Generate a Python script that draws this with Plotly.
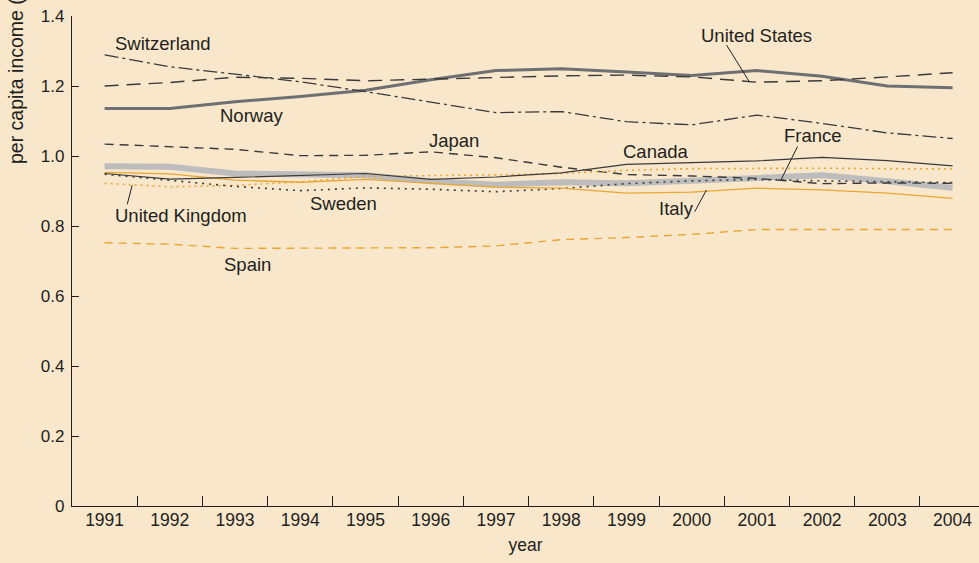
import plotly.graph_objects as go

years = [str(y) for y in range(1991, 2005)]

switzerland = [1.289, 1.255, 1.234, 1.212, 1.184, 1.153, 1.124, 1.127, 1.098, 1.089, 1.117, 1.093, 1.066, 1.050]
united_states = [1.200, 1.210, 1.225, 1.222, 1.215, 1.220, 1.226, 1.229, 1.231, 1.226, 1.211, 1.215, 1.226, 1.238]
norway = [1.136, 1.136, 1.155, 1.170, 1.188, 1.218, 1.244, 1.249, 1.240, 1.230, 1.244, 1.228, 1.200, 1.195]
japan = [1.034, 1.027, 1.019, 1.001, 1.002, 1.012, 0.995, 0.968, 0.947, 0.943, 0.936, 0.921, 0.923, 0.922]
canada = [0.950, 0.934, 0.939, 0.944, 0.950, 0.933, 0.940, 0.952, 0.976, 0.981, 0.986, 0.996, 0.987, 0.972]
france = [0.971, 0.969, 0.950, 0.946, 0.945, 0.928, 0.918, 0.925, 0.922, 0.929, 0.937, 0.945, 0.928, 0.909]
italy = [0.953, 0.949, 0.931, 0.925, 0.933, 0.922, 0.911, 0.908, 0.894, 0.897, 0.908, 0.903, 0.894, 0.879]
sweden = [0.948, 0.930, 0.913, 0.901, 0.909, 0.905, 0.898, 0.907, 0.921, 0.929, 0.933, 0.929, 0.927, 0.924]
united_kingdom = [0.922, 0.912, 0.916, 0.926, 0.942, 0.943, 0.946, 0.950, 0.959, 0.964, 0.965, 0.965, 0.964, 0.963]
spain = [0.752, 0.748, 0.736, 0.737, 0.738, 0.738, 0.743, 0.761, 0.767, 0.776, 0.790, 0.790, 0.790, 0.790]

y_ticks = [0, 0.2, 0.4, 0.6, 0.8, 1.0, 1.2, 1.4]
y_tick_text = ["0", "0.2", "0.4", "0.6", "0.8", "1.0", "1.2", "1.4"]

BG = "#f8e7cb"
INK = "#231f20"
DARK = "#3b3a3a"
ORANGE = "#eaa633"
FONT = "Liberation Sans Narrow, Liberation Sans, Arial, sans-serif"

series = [
    ("France", france, dict(color="#bdbdbd", width=6)),
    ("Norway", norway, dict(color="#6e6f72", width=3)),
    ("Switzerland", switzerland, dict(color=DARK, width=1.3, dash="14px,4px,3px,4px")),
    ("United States", united_states, dict(color=DARK, width=1.4, dash="14px,8px")),
    ("Japan", japan, dict(color=DARK, width=1.4, dash="9px,6px")),
    ("Spain", spain, dict(color=ORANGE, width=1.4, dash="8px,6px")),
    ("United Kingdom", united_kingdom, dict(color=ORANGE, width=1.6, dash="2px,4px")),
    ("Sweden", sweden, dict(color=DARK, width=1.6, dash="2px,5px")),
    ("Italy", italy, dict(color=ORANGE, width=1.3)),
    ("Canada", canada, dict(color=DARK, width=1.2)),
]

fig = go.Figure()
for name, vals, line in series:
    fig.add_trace(go.Scatter(x=years, y=vals, mode="lines", name=name, line=line,
                             showlegend=False, hoverinfo="skip"))

labels = [
    ("Switzerland", 0.888, 1.322),
    ("Norway", 2.256, 1.117),
    ("United States", 9.99, 1.343),
    ("Japan", 5.362, 1.043),
    ("Canada", 8.46, 1.014),
    ("France", 10.86, 1.058),
    ("United Kingdom", 1.164, 0.830),
    ("Sweden", 3.664, 0.863),
    ("Italy", 8.767, 0.849),
    ("Spain", 2.193, 0.691),
]
for text, xi, yv in labels:
    fig.add_annotation(x=xi, y=yv, xref="x", yref="y", text=text, showarrow=False,
                       font=dict(family=FONT, size=18.5, color=INK),
                       xanchor="center", yanchor="middle")

pointers = [
    (9.535, 1.317, 9.888, 1.211),
    (10.623, 1.027, 10.367, 0.931),
    (0.423, 0.917, 0.347, 0.862),
    (9.227, 0.903, 9.047, 0.841),
]
for x0, y0, x1, y1 in pointers:
    fig.add_shape(type="line", xref="x", yref="y", x0=x0, y0=y0, x1=x1, y1=y1,
                  line=dict(color=INK, width=1))

fig.add_annotation(x=(16 - 72) / 907, y=(506 - 166) / 490, xref="paper", yref="paper",
                   text="per capita income (", showarrow=False, textangle=-90,
                   font=dict(family=FONT, size=19.5, color=INK),
                   xanchor="center", yanchor="bottom")

fig.update_layout(
    width=979, height=563,
    paper_bgcolor=BG, plot_bgcolor=BG,
    margin=dict(l=72, r=0, t=16, b=57),
    font=dict(family=FONT, size=17, color=INK),
    xaxis=dict(type="category", range=[-0.5, 13.405], showgrid=False, zeroline=False,
               showline=True, linecolor=INK, linewidth=1.2,
               ticks="inside", ticklen=10, tickwidth=1, tickcolor=INK,
               tickson="boundaries", ticklabelstandoff=-2,
               tickfont=dict(family=FONT, size=17.5, color=INK),
               title=dict(text="year", font=dict(family=FONT, size=17.5, color=INK), standoff=9)),
    yaxis=dict(range=[0, 1.4], showgrid=False, zeroline=False,
               showline=True, linecolor=INK, linewidth=1.2,
               ticks="inside", ticklen=7, tickwidth=1, tickcolor=INK,
               tickvals=y_ticks, ticktext=y_tick_text, ticklabelstandoff=3,
               tickfont=dict(family=FONT, size=17, color=INK)),
)

fig.write_html("out.html", config={"displayModeBar": False},
               post_script="document.body.style.margin='0px';document.body.style.overflow='hidden';")
